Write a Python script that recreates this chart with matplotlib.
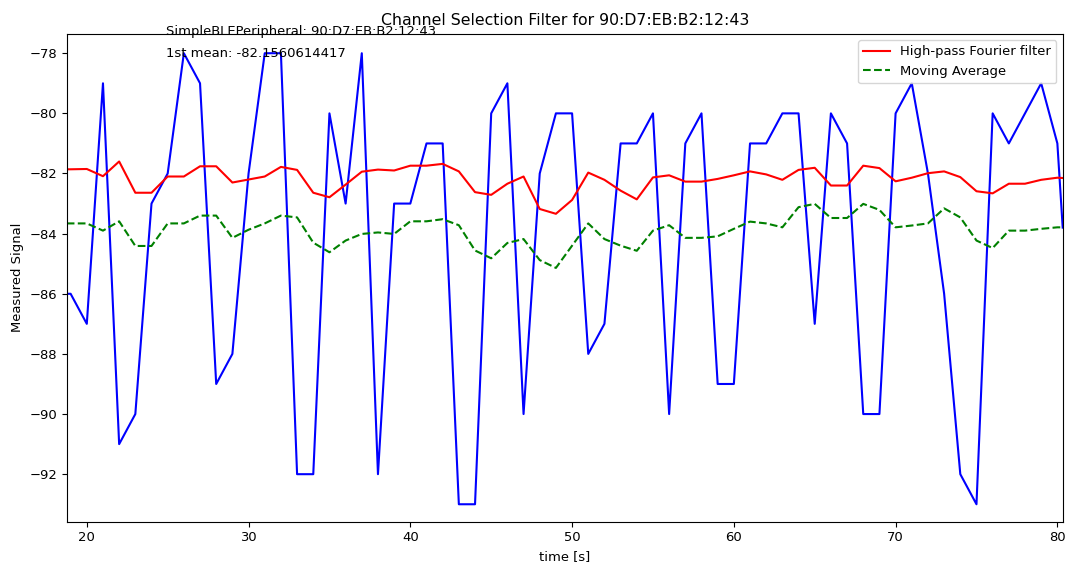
import numpy as np
import matplotlib
matplotlib.use('Agg')
import matplotlib.pyplot as plt

plt.rcParams['font.size'] = 9.45

# time axis [s], first and last samples sit on the plot edges
times = [18.76] + list(range(19, 81)) + [80.33]

raw_signal = [-86, -86, -87, -79, -91, -90, -83, -82, -78, -79, -89,
              -88, -82, -78, -78, -92, -92, -80, -83, -78, -92,
              -83, -83, -81, -81, -93, -93, -80, -79, -90, -82,
              -80, -80, -88, -87, -81, -81, -80, -90, -81, -80,
              -89, -89, -81, -81, -80, -80, -87, -80, -81, -90,
              -90, -80, -79, -82, -86, -92, -93, -80, -81, -80,
              -79, -81, -83.8]

highpass = [-81.86, -81.86, -81.85, -82.09, -81.60, -82.64, -82.64, -82.10, -82.10, -81.76, -81.76,
            -82.30, -82.20, -82.10, -81.78, -81.88, -82.64, -82.79, -82.37, -81.94, -81.87,
            -81.90, -81.74, -81.74, -81.68, -81.93, -82.62, -82.71, -82.34, -82.10, -83.18,
            -83.34, -82.88, -81.97, -82.21, -82.57, -82.86, -82.13, -82.06, -82.27, -82.27,
            -82.18, -82.06, -81.93, -82.03, -82.21, -81.88, -81.81, -82.40, -82.40, -81.74,
            -81.82, -82.26, -82.14, -81.99, -81.93, -82.12, -82.59, -82.66, -82.34, -82.34,
            -82.21, -82.14, -82.15]

moving_avg = [-83.66, -83.66, -83.66, -83.90, -83.59, -84.41, -84.41, -83.66, -83.66, -83.40, -83.40,
              -84.14, -83.87, -83.66, -83.40, -83.46, -84.30, -84.62, -84.23, -84.01, -83.96,
              -84.01, -83.59, -83.59, -83.52, -83.72, -84.56, -84.82, -84.31, -84.18, -84.88,
              -85.14, -84.40, -83.66, -84.18, -84.40, -84.57, -83.90, -83.72, -84.14, -84.14,
              -84.09, -83.84, -83.60, -83.66, -83.79, -83.12, -83.01, -83.48, -83.48, -83.01,
              -83.21, -83.79, -83.73, -83.66, -83.16, -83.46, -84.23, -84.48, -83.90, -83.90,
              -83.84, -83.79, -83.79]

address = '90:D7:EB:B2:12:43'
first_mean = -82.1560614417

fig, ax = plt.subplots(figsize=(10.73, 5.67), dpi=100)
fig.subplots_adjust(left=0.0622, right=0.9904, top=0.9406, bottom=0.0799)

ax.plot(times, raw_signal, color='b')
ax.plot(times, highpass, color='r', label='High-pass Fourier filter')
ax.plot(times, moving_avg, color='g', linestyle='--', label='Moving Average')

ax.text(24.9, -77.38, 'SimpleBLEPeripheral: ' + address)
ax.text(24.9, -78.13, '1st mean: ' + str(first_mean))

ax.set_title('Channel Selection Filter for ' + address, fontsize=11.35)
ax.set_xlabel('time [s]')
ax.set_ylabel('Measured Signal')
ax.set_xlim(18.76, 80.33)
ax.set_ylim(-93.58, -77.35)
ax.legend(loc='upper right')

fig.savefig('out.png')
